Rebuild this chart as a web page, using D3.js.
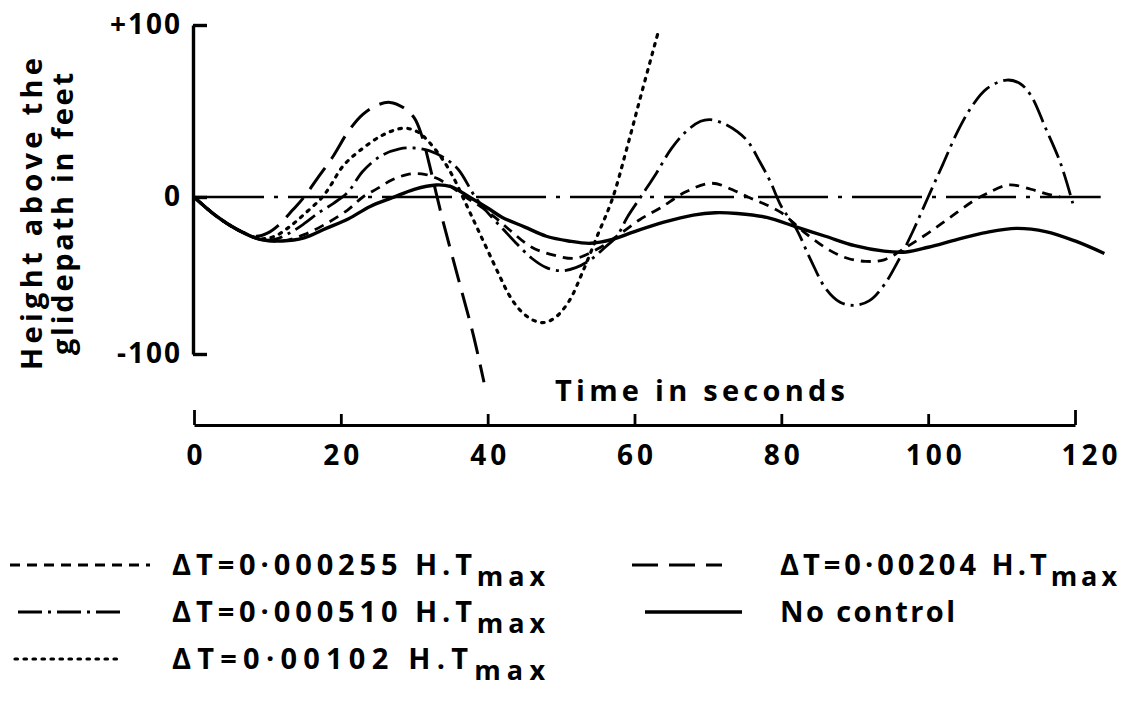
<!DOCTYPE html>
<html>
<head>
<meta charset="utf-8">
<script src="https://cdn.jsdelivr.net/npm/d3@7"></script>
<style>
  html, body { margin: 0; padding: 0; background: #fff; }
  svg { display: block; }
  text { font-family: "Open Sans", "DejaVu Sans", sans-serif; font-weight: 700; fill: #000; }
</style>
</head>
<body>
<svg id="chart" width="1126" height="703"></svg>
<script>
// Time samples (s) and heights above the glidepath (ft) for each control setting
const noControlT = [0, 3, 6, 9, 12, 15, 18, 21, 24, 27, 30, 33, 35, 37.5, 40, 42, 45, 48, 51, 54, 57, 60, 64, 68, 71, 74, 78, 82, 86, 90, 94, 97, 100, 104, 108, 112, 116, 120, 124];
const noControlH = [0, -12, -21, -27, -28, -26, -20, -14, -6, -0.5, 4.5, 7, 6, 0, -7, -13, -19, -25, -28, -29.5, -27, -22, -16, -11.5, -10, -10.5, -13, -19, -25, -31, -34.5, -35, -32, -27, -22.5, -20, -22, -28, -36];

const dt255T = [0, 3, 6, 9, 12, 15, 18, 21, 23, 25, 27, 29, 31, 33, 35, 37, 39, 41, 43, 46, 49, 52, 55, 57.6, 60.7, 63.5, 67, 70.5, 74, 75.7, 77, 80, 83, 86.6, 89, 91.5, 94, 97, 100, 103, 106, 108, 111, 114, 116, 118];
const dt255H = [0, -12, -21, -27, -28, -24, -17, -8, 0, 5, 10, 13, 13.5, 11, 6, 0, -6, -13, -21, -32, -37, -39, -33, -25, -14.5, -7, 3, 8, 3, -0.5, -3, -10, -22, -34, -39, -41, -40, -32, -23, -13, -3, 2, 7, 4.5, 2, 0];

const dt510T = [0, 3, 6, 9, 11, 13, 15, 17, 19, 21, 23, 25.5, 28, 30, 32, 34, 36, 38.3, 40, 42, 44, 46, 48, 50, 52, 54, 56, 57.6, 59, 61, 63, 65, 67, 69, 70.3, 72, 74, 75.5, 77, 78.5, 80, 82, 84, 86, 88, 90, 92, 94, 96, 98, 100, 102, 104, 106, 108, 110.7, 112.5, 114, 116, 118, 119.7];
const dt510H = [0, -12, -21, -27, -27, -23, -17, -10, -4, 3, 15, 24, 28, 28.5, 27, 23, 16, 0, -10, -20, -30, -39, -45, -47, -45, -40, -32, -25, -13, 1, 14, 28, 38, 44, 45, 43, 38, 32, 21, 9, -6, -20, -40, -58, -67, -69, -66, -56, -40, -21, 0, 19, 38, 53, 63, 68, 66, 59, 40, 20, -4];

const dt102T = [0, 3, 6, 9, 11, 13, 15, 17.5, 18.5, 20.3, 22.6, 25.7, 28.5, 30.4, 32, 34, 35.5, 36.5, 37.6, 38.7, 40, 41.7, 43, 44.4, 46, 47.5, 49, 51, 53, 55, 57, 59, 61, 63.3];
const dt102H = [0, -12, -21, -26.5, -25, -19, -11, 0, 6, 18, 27, 36, 40, 38, 32, 21, 10, 1, -10, -21, -34, -51, -63, -72, -78, -80, -77.5, -67, -47, -24, -1, 29, 61, 97];

const dt204T = [0, 3, 6, 8.5, 10, 11.5, 13.5, 15, 17, 19, 21, 23, 25, 26.7, 28.5, 30, 31, 32, 33, 34, 36, 38, 39.5];
const dt204H = [0, -12, -21, -25, -23, -18, -8, 0, 12, 24, 38, 48, 53.5, 55, 52, 46, 36, 20, 2, -17, -52, -87, -118];

// Axis ticks and labels
const xTicks = [0, 20, 40, 60, 80, 100, 120];
const yTicks = [100, 0, -100];
const yTickLabels = ["+100", "0", "-100"];

// Legend texts (the "max" subscript is added separately)
const legendLabels = ["ΔT=0·000255 H.T", "ΔT=0·000510 H.T", "ΔT=0·00102 H.T", "ΔT=0·00204 H.T", "No control"];

const svg = d3.select("#chart");

const x = d3.scaleLinear().domain([0, 120]).range([194, 1075]);
const y = d3.scaleLinear().domain([-100, 0, 100]).range([354, 197, 25]);

const styles = {
  dt255:  { dash: "10,7",          width: 2.8 },
  dt510:  { dash: "24,6,3,6",      width: 2.8 },
  dt102:  { dash: "2.5,6.5",       width: 3.2 },
  dt204:  { dash: "26,11",         width: 3.0 },
  none:   { dash: null,            width: 3.4 }
};

const series = [
  { key: "none",  t: noControlT, h: noControlH },
  { key: "dt255", t: dt255T, h: dt255H },
  { key: "dt510", t: dt510T, h: dt510H },
  { key: "dt102", t: dt102T, h: dt102H },
  { key: "dt204", t: dt204T, h: dt204H }
];

const line = d3.line()
  .x(d => x(d[0]))
  .y(d => y(d[1]))
  .curve(d3.curveCatmullRom.alpha(0.5));

// Glidepath reference line at zero height
svg.append("line")
  .attr("x1", x(0)).attr("x2", x(123.5))
  .attr("y1", y(0)).attr("y2", y(0))
  .attr("stroke", "#000").attr("stroke-width", 2.6)
  .attr("stroke-dasharray", "70,10,4,10");

// Response curves
svg.append("g").selectAll("path")
  .data(series)
  .join("path")
  .attr("d", s => line(s.t.map((t, i) => [t, s.h[i]])))
  .attr("fill", "none")
  .attr("stroke", "#000")
  .attr("stroke-linecap", s => s.key === "dt102" ? "round" : "butt")
  .attr("stroke-width", s => styles[s.key].width)
  .attr("stroke-dasharray", s => styles[s.key].dash);

// Vertical axis with ticks pointing into the plot
const yAxis = d3.axisLeft(y)
  .tickValues(yTicks)
  .tickFormat((d, i) => yTickLabels[i])
  .tickSizeInner(-14)
  .tickSizeOuter(0)
  .tickPadding(11);

const gy = svg.append("g").attr("transform", `translate(${x(0) - 1},0)`).call(yAxis);
gy.selectAll("path, line").attr("stroke", "#000").attr("stroke-width", 3.4);
gy.selectAll("text")
  .attr("font-size", 28)
  .attr("font-family", "'Open Sans', sans-serif")
  .attr("font-weight", 700)
  .attr("letter-spacing", 2);

// Y title, two rotated lines
const yTitle = svg.append("g").attr("transform", "translate(0,214) rotate(-90)");
yTitle.append("text")
  .attr("x", 0).attr("y", 42)
  .attr("text-anchor", "middle")
  .attr("font-size", 29)
  .attr("textLength", 312).attr("lengthAdjust", "spacing")
  .text("Height above the");
yTitle.append("text")
  .attr("x", 0).attr("y", 73)
  .attr("text-anchor", "middle")
  .attr("font-size", 29)
  .attr("textLength", 282).attr("lengthAdjust", "spacing")
  .text("glidepath in feet");

// Horizontal time axis drawn below the plot
const axisY = 425;
const xAxis = d3.axisBottom(x)
  .tickValues(xTicks)
  .tickFormat(d3.format("d"))
  .tickSizeInner(-11)
  .tickSizeOuter(0)
  .tickPadding(20);

const gx = svg.append("g").attr("transform", `translate(0,${axisY})`).call(xAxis);
gx.selectAll("path, line").attr("stroke", "#000").attr("stroke-width", 2.8);
gx.selectAll(".tick line").attr("y2", d => (d === 0 || d === 120) ? -15 : -11);
gx.selectAll("text")
  .attr("font-size", 28)
  .attr("font-family", "'Open Sans', sans-serif")
  .attr("font-weight", 700)
  .attr("letter-spacing", 4)
  .attr("dx", d => d === 120 ? 16 : (d === 100 ? 7 : 2));

svg.append("text")
  .attr("x", 700).attr("y", 401)
  .attr("text-anchor", "middle")
  .attr("font-size", 29)
  .attr("textLength", 290).attr("lengthAdjust", "spacing")
  .text("Time in seconds");

// Legend
const legend = [
  { key: "dt255", col: 0, row: 0, sub: true,  span: [10, 150] },
  { key: "dt510", col: 0, row: 1, sub: true,  span: [18, 125] },
  { key: "dt102", col: 0, row: 2, sub: true,  span: [15, 120] },
  { key: "dt204", col: 1, row: 0, sub: true,  span: [632, 722] },
  { key: "none",  col: 1, row: 1, sub: false, span: [645, 742] }
];
const legendLabelOf = { dt255: 0, dt510: 1, dt102: 2, dt204: 3, none: 4 };
const colText = [172, 780];
const textWidth = { dt255: 373, dt510: 373, dt102: 373, dt204: 337, none: 175 };
const rowY = [565, 612, 659];

const lg = svg.append("g");
legend.forEach(e => {
  const yy = rowY[e.row];
  lg.append("line")
    .attr("x1", e.span[0]).attr("x2", e.span[1])
    .attr("y1", yy).attr("y2", yy)
    .attr("stroke", "#000")
    .attr("stroke-width", styles[e.key].width)
    .attr("stroke-linecap", e.key === "dt102" ? "round" : "butt")
    .attr("stroke-dasharray", styles[e.key].dash);
  const t = lg.append("text")
    .attr("x", colText[e.col]).attr("y", yy + 10)
    .attr("font-size", 29)
    .attr("textLength", textWidth[e.key])
    .attr("lengthAdjust", "spacing");
  t.append("tspan").text(legendLabels[legendLabelOf[e.key]]);
  if (e.sub) {
    t.append("tspan").attr("dy", 11).attr("font-size", 27).text("max");
  }
});
</script>
</body>
</html>
